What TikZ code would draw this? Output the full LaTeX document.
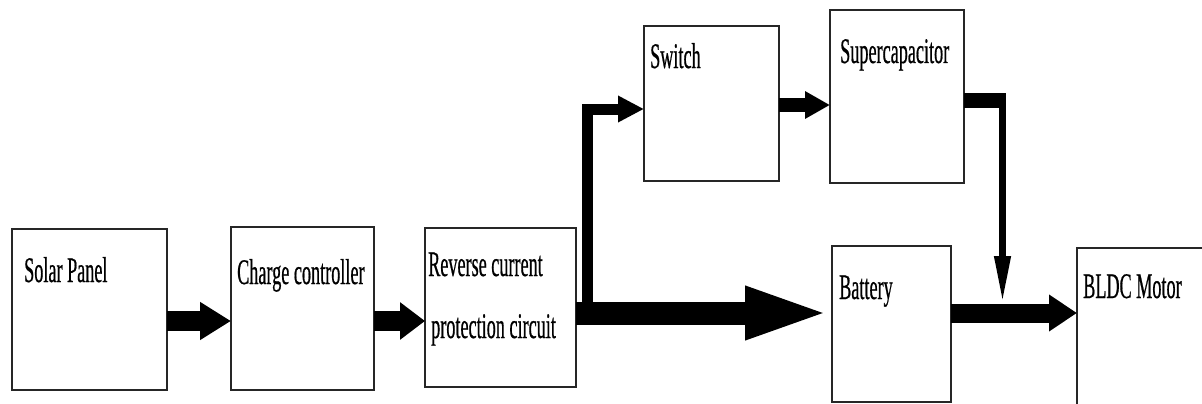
\documentclass[tikz,border=0pt]{standalone}
\usepackage{fontspec}
\setmainfont[FakeStretch=0.505, FakeBold=0.5]{Liberation Serif}
\usetikzlibrary{arrows.meta}
\begin{document}
\begin{tikzpicture}[x=1pt,y=-1pt,
  box/.style 2 args={draw=black!85, line width=1.5pt, minimum width=#1pt,
    minimum height=#2pt, inner sep=0pt, outer sep=0pt},
  lbl/.style={anchor=base west, inner sep=0pt, font=\fontsize{36}{44}\selectfont},
  flow/.style n args={3}{draw=black, line width=#1pt,
    -{Triangle[length=#2pt, width=#3pt]}},
  bar/.style={draw=black, line width=#1pt}]
\useasboundingbox (0,0) rectangle (1202,404);

% blocks
\node[box={155}{161}] (sol)  at (89.5,309.5) {};
\node[box={143}{163}] (chg)  at (302.5,308.5) {};
\node[box={151}{159}] (rev)  at (500.5,307.5) {};
\node[box={135}{155}] (sw)   at (711.5,103.5) {};
\node[box={134}{173}] (sup)  at (897,96.5) {};
\node[box={119}{156}] (bat)  at (891.5,324) {};
\node[box={146}{172}] (bldc) at (1150,334) {};

% labels
\node[lbl] (solT)  at (24,282)  {Solar Panel};
\node[lbl] (chgT)  at (237,284) {Charge controller};
\node[lbl] (revT1) at (428,276) {Reverse current};
\node[lbl] (revT2) at (431,338) {protection circuit};
\node[lbl] (swT)   at (650,68)  {Switch};
\node[lbl] (supT)  at (840,63)  {Supercapacitor};
\node[lbl] (batT)  at (839,299) {Battery};
\node[lbl] (bldcT) at (1083,298) {BLDC Motor};

% signal levels
\coordinate (lvA) at (0,321);
\coordinate (lvB) at (0,313);
\coordinate (lvC) at (0,109);
\coordinate (lvD) at (0,105);
\coordinate (br)  at (587.5,313);
\coordinate (scR) at (1006,100.5);
\coordinate (scD) at (1002.5,100.5);
\coordinate (jn)  at (1002.5,304);

% connectors
\draw[flow={20}{31}{36}] (sol.east |- lvA) -- (chg.west |- lvA);
\draw[flow={20}{25}{36}] (chg.east |- lvA) -- (rev.west |- lvA);
\draw[flow={23}{87}{47}] (rev.east |- lvB) -- (bat.west |- lvB);
\draw[flow={11}{26}{25}, line join=miter] ([yshift=-11.5pt]br) |- (sw.west |- lvC);
\draw[flow={14}{25}{26}] (sw.east |- lvD) -- (sup.west |- lvD);
\draw[bar={15}] (sup.east |- scR) -- (scR);
\draw[flow={7}{48}{15}] ([yshift=7.5pt]scD) -- (jn);
\draw[flow={19}{28}{35}] (bat.east |- lvB) -- (bldc.west |- lvB);
\end{tikzpicture}
\end{document}
